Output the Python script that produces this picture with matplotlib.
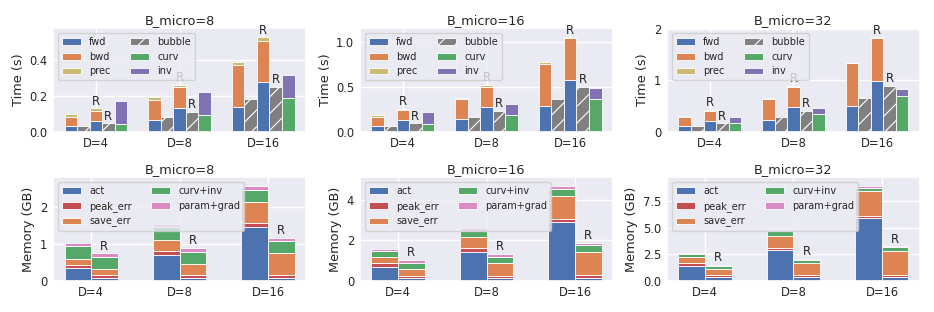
import matplotlib
matplotlib.use('Agg')
import matplotlib.pyplot as plt
import seaborn as sns
import numpy as np

sns.set_theme(style='darkgrid')
plt.rcParams['font.family'] = ['DejaVu Sans']

# ---------------- data ----------------
b_micro = [8, 16, 32]
depths = ['D=4', 'D=8', 'D=16']

# time (s): rows = B_micro 8/16/32, cols = D=4/8/16 (segment heights)
base_fwd = [[0.033, 0.067, 0.139], [0.066, 0.140, 0.290], [0.110, 0.232, 0.503]]
base_bwd = [[0.052, 0.111, 0.233], [0.104, 0.225, 0.459], [0.190, 0.400, 0.826]]
base_prec = [[0.013, 0.015, 0.017], [0.018, 0.015, 0.026], [0.016, 0.020, 0.013]]
base_bubble = [[0.033, 0.085, 0.181], [0.066, 0.170, 0.362], [0.116, 0.300, 0.652]]
r_fwd = [[0.061, 0.133, 0.278], [0.129, 0.280, 0.579], [0.220, 0.484, 0.987]]
r_bwd = [[0.056, 0.117, 0.231], [0.111, 0.222, 0.458], [0.193, 0.393, 0.826]]
r_prec = [[0.014, 0.011, 0.017], [0.018, 0.018, 0.011], [0.013, 0.020, 0.019]]
r_bubble = [[0.048, 0.113, 0.250], [0.096, 0.232, 0.502], [0.168, 0.406, 0.890]]
curv = [[0.046, 0.094, 0.191], [0.092, 0.185, 0.369], [0.174, 0.342, 0.697]]
inv = [[0.126, 0.126, 0.124], [0.126, 0.121, 0.121], [0.123, 0.129, 0.129]]

# memory (GB): rows = B_micro, cols = D (segment heights)
base_act = [[0.36, 0.72, 1.46], [0.70, 1.44, 2.92], [1.44, 2.91, 5.88]]
base_peak = [[0.07, 0.10, 0.11], [0.17, 0.17, 0.16], [0.22, 0.22, 0.21]]
base_save = [[0.18, 0.29, 0.57], [0.29, 0.54, 1.12], [0.56, 1.12, 2.29]]
base_curvinv = [[0.34, 0.35, 0.33], [0.30, 0.33, 0.32], [0.34, 0.38, 0.31]]
base_param = [[0.09, 0.09, 0.10], [0.11, 0.13, 0.14], [0.10, 0.09, 0.15]]
r_act = [[0.07, 0.07, 0.07], [0.13, 0.13, 0.13], [0.34, 0.34, 0.34]]
r_peak = [[0.09, 0.09, 0.10], [0.13, 0.13, 0.17], [0.19, 0.19, 0.19]]
r_save = [[0.17, 0.29, 0.58], [0.31, 0.61, 1.14], [0.56, 1.13, 2.28]]
r_curvinv = [[0.33, 0.35, 0.34], [0.33, 0.33, 0.33], [0.35, 0.31, 0.35]]
r_param = [[0.09, 0.10, 0.09], [0.13, 0.13, 0.12], [0.06, 0.09, 0.09]]

# ---------------- style ----------------
pal = sns.color_palette('deep')
C_BLUE, C_ORANGE, C_GREEN, C_RED, C_PURPLE = pal[0], pal[1], pal[2], pal[3], pal[4]
C_PINK, C_GRAY, C_OLIVE = pal[6], '#808080', pal[8]

TICK_FS = 8.3
LABEL_FS = 9.3
LEG_FS = 7
EC = 'white'
LW = 0.6
plt.rcParams['hatch.linewidth'] = 0.8

fig, axes = plt.subplots(2, 3, figsize=(9.34, 3.12), dpi=100)
fig.subplots_adjust(left=53 / 934, right=920 / 934, bottom=31 / 312, top=284 / 312,
                    wspace=0.2134, hspace=0.433)

x = np.arange(len(depths))


def stack(ax, xpos, width, segs, colors, labels, hatch=None):
    bottom = np.zeros(len(xpos))
    handles = []
    for s, c, l in zip(segs, colors, labels):
        s = np.asarray(s, dtype=float)
        h = ax.bar(xpos, s, width, bottom=bottom, color=c, edgecolor=EC,
                   linewidth=LW, hatch=hatch, label=l)
        handles.append(h)
        bottom = bottom + s
    return bottom, handles


def mark_r(ax, xpos, tops):
    for xi, t in zip(xpos, tops):
        ax.annotate('R', (xi, t), xytext=(0, 0.5), textcoords='offset points',
                    ha='center', va='bottom', fontsize=TICK_FS)


def finish(ax, title, ylabel):
    ax.set_xticks(x)
    ax.set_xticklabels(depths)
    ax.set_title(title, fontsize=LABEL_FS, pad=3)
    ax.set_ylabel(ylabel, fontsize=LABEL_FS, labelpad=3)
    ax.tick_params(axis='y', labelsize=TICK_FS, length=0, pad=4.3)
    ax.tick_params(axis='x', labelsize=TICK_FS, length=0, pad=3.5)


# top row: time
w = 0.15
for i, b in enumerate(b_micro):
    ax = axes[0, i]
    t1, h1 = stack(ax, x - 2 * w, w, [base_fwd[i], base_bwd[i], base_prec[i]],
                   [C_BLUE, C_ORANGE, C_OLIVE], ['fwd', 'bwd', 'prec'])
    t2, h2 = stack(ax, x - w, w, [base_bubble[i]], [C_GRAY], ['bubble'], hatch='//')
    t3, _ = stack(ax, x, w, [r_fwd[i], r_bwd[i], r_prec[i]],
                  [C_BLUE, C_ORANGE, C_OLIVE], ['_a', '_b', '_c'])
    t4, _ = stack(ax, x + w, w, [r_bubble[i]], [C_GRAY], ['_d'], hatch='//')
    t5, h5 = stack(ax, x + 2 * w, w, [curv[i], inv[i]], [C_GREEN, C_PURPLE],
                   ['curv', 'inv'])
    mark_r(ax, x, t3)
    mark_r(ax, x + w, t4)
    ymax = max(t1.max(), t2.max(), t3.max(), t4.max(), t5.max())
    ax.set_ylim(0, ymax * 1.1)
    finish(ax, f'B_micro={b}', 'Time (s)')
    ax.legend(handles=h1 + h2 + h5, ncol=2, loc='upper left', fontsize=LEG_FS)

# bottom row: memory
w2 = 0.3
mem_colors = [C_BLUE, C_RED, C_ORANGE, C_GREEN, C_PINK]
mem_labels = ['act', 'peak_err', 'save_err', 'curv+inv', 'param+grad']
for i, b in enumerate(b_micro):
    ax = axes[1, i]
    tb, hb = stack(ax, x - w2 / 2, w2,
                   [base_act[i], base_peak[i], base_save[i], base_curvinv[i], base_param[i]],
                   mem_colors, mem_labels)
    tr, _ = stack(ax, x + w2 / 2, w2,
                  [r_act[i], r_peak[i], r_save[i], r_curvinv[i], r_param[i]],
                  mem_colors, ['_' + l for l in mem_labels])
    mark_r(ax, x + w2 / 2, tr)
    ax.set_ylim(0, max(tb.max(), tr.max()) * 1.1)
    finish(ax, f'B_micro={b}', 'Memory (GB)')
    ax.legend(handles=hb, ncol=2, loc='upper left', fontsize=LEG_FS)

fig.savefig('out.png', dpi=100)
